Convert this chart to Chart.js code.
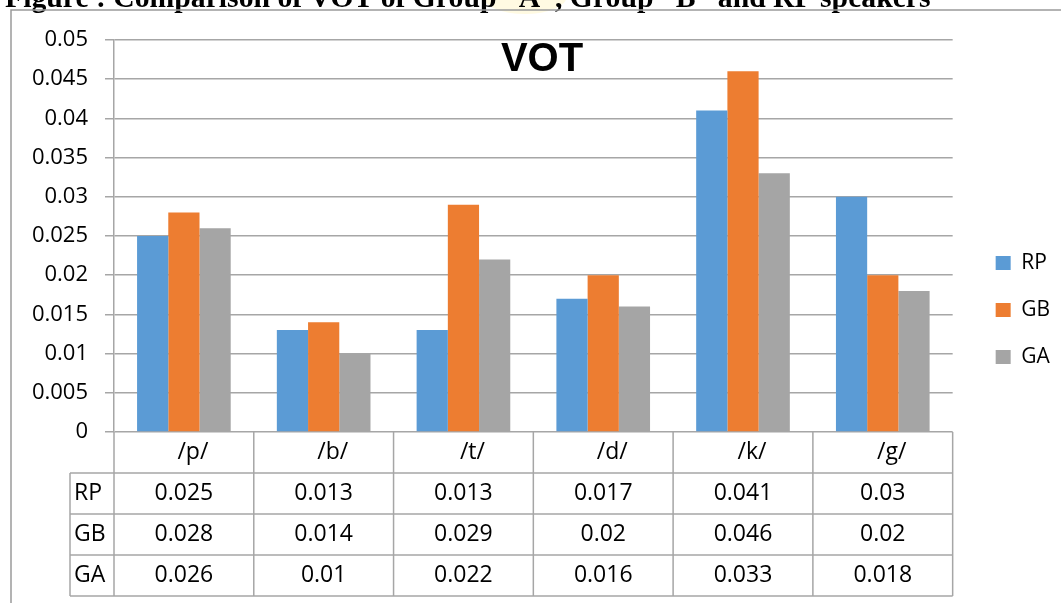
<!DOCTYPE html>
<html>
<head>
<meta charset="utf-8">
<title>VOT</title>
<script src="https://cdn.jsdelivr.net/npm/chart.js@4.4.1/dist/chart.umd.min.js"></script>
<style>
  html, body { margin: 0; padding: 0; background: #fff; }
  #wrap { width: 1061px; height: 603px; }
</style>
</head>
<body>
<div id="wrap"><canvas id="votChart" width="1061" height="603"></canvas></div>
<script>
const categories = ["/p/", "/b/", "/t/", "/d/", "/k/", "/g/"];
const seriesNames = ["RP", "GB", "GA"];
const rpValues = [0.025, 0.013, 0.013, 0.017, 0.041, 0.03];
const gbValues = [0.028, 0.014, 0.029, 0.02, 0.046, 0.02];
const gaValues = [0.026, 0.01, 0.022, 0.016, 0.033, 0.018];
const yMin = 0;
const yMax = 0.05;
const yStep = 0.005;
const chartTitle = "VOT";
const captionText = "Figure : Comparison of VOT of Group \u201cA\u201d, Group \u201cB\u201d and RP speakers";

const colors = ["#5b9bd5", "#ed7d31", "#a5a5a5"];
const lineGray = "#a6a6a6";
const fontFamily = "'Open Sans', sans-serif";

Chart.defaults.font.family = fontFamily;
Chart.defaults.color = "#000";

// caption, frame and title around the plot, data table under it
const extrasPlugin = {
    id: "extras",
    beforeDraw(chart) {
        const ctx = chart.ctx;
        ctx.save();
        // faint watermark blob behind the caption
        ctx.fillStyle = "rgba(255, 240, 160, 0.3)";
        ctx.beginPath();
        ctx.ellipse(525, -4, 42, 18, 0, 0, Math.PI * 2);
        ctx.fill();

        ctx.fillStyle = "#000";
        ctx.font = "bold 29.7px 'Liberation Serif', serif";
        ctx.textBaseline = "alphabetic";
        ctx.textAlign = "left";
        ctx.fillText(captionText, 5, 7);

        ctx.strokeStyle = "#9a9a9a";
        ctx.lineWidth = 1.5;
        ctx.beginPath();
        ctx.moveTo(11, 603);
        ctx.lineTo(11, 10);
        ctx.lineTo(1061, 10);
        ctx.stroke();
        ctx.restore();
    },
    afterDraw(chart) {
        const { ctx, chartArea, scales: { x } } = chart;
        const n = categories.length;
        const half = (chartArea.right - chartArea.left) / n / 2;
        const top = chartArea.bottom;
        const rowH = 41;
        const labelLeft = 70;
        const rows = [rpValues, gbValues, gaValues];
        const bottom = top + rowH * (rows.length + 1);

        ctx.save();
        ctx.strokeStyle = lineGray;
        ctx.lineWidth = 1.5;
        ctx.beginPath();
        for (let i = 0; i <= n; i++) {
            const px = i < n ? x.getPixelForValue(i) - half : x.getPixelForValue(n - 1) + half;
            ctx.moveTo(px, top);
            ctx.lineTo(px, bottom);
        }
        ctx.moveTo(labelLeft, top + rowH);
        ctx.lineTo(labelLeft, bottom);
        for (let r = 1; r <= rows.length; r++) {
            ctx.moveTo(labelLeft, top + rowH * r);
            ctx.lineTo(chartArea.right, top + rowH * r);
        }
        ctx.moveTo(labelLeft, bottom);
        ctx.lineTo(chartArea.right, bottom);
        ctx.stroke();

        ctx.fillStyle = "#000";
        ctx.font = "23px " + fontFamily;
        ctx.textBaseline = "middle";
        ctx.textAlign = "center";
        categories.forEach((c, i) => {
            ctx.fillText(c, x.getPixelForValue(i) + 9, top + rowH / 2);
        });
        rows.forEach((vals, r) => {
            const cy = top + rowH * (r + 1) + rowH / 2;
            ctx.textAlign = "center";
            vals.forEach((v, i) => {
                ctx.fillText(String(v), x.getPixelForValue(i), cy);
            });
            ctx.textAlign = "left";
            ctx.fillText(seriesNames[r], labelLeft + 4, cy);
        });

        // chart title inside the plot
        ctx.font = "bold 40px 'Liberation Sans', sans-serif";
        ctx.textAlign = "center";
        ctx.fillText(chartTitle, 542, chartArea.top + 20);
        ctx.restore();
    }
};

new Chart(document.getElementById("votChart"), {
    type: "bar",
    data: {
        labels: categories,
        datasets: [
            { label: seriesNames[0], data: rpValues, backgroundColor: colors[0] },
            { label: seriesNames[1], data: gbValues, backgroundColor: colors[1] },
            { label: seriesNames[2], data: gaValues, backgroundColor: colors[2] }
        ]
    },
    options: {
        responsive: false,
        animation: false,
        categoryPercentage: 0.67,
        barPercentage: 1,
        layout: { padding: { top: 40, left: 0, right: 1, bottom: 23 } },
        plugins: {
            tooltip: { enabled: false },
            legend: {
                position: "right",
                labels: {
                    boxWidth: 15,
                    boxHeight: 14,
                    padding: 26,
                    font: { size: 21 }
                }
            }
        },
        scales: {
            x: {
                ticks: { display: false },
                grid: { display: false },
                border: { display: false },
                afterFit(scale) { scale.height = 148; }
            },
            y: {
                min: yMin,
                max: yMax,
                ticks: {
                    stepSize: yStep,
                    padding: 17,
                    font: { size: 22 },
                    callback: value => String(Number(value.toFixed(3)))
                },
                grid: { color: lineGray, lineWidth: 1.5, tickLength: 9 },
                border: { color: lineGray, width: 1.5 },
                afterFit(scale) { scale.width = 114; }
            },
            gap: {
                type: "linear",
                position: "right",
                ticks: { display: false },
                grid: { display: false },
                border: { display: false },
                afterFit(scale) { scale.width = 17; }
            }
        }
    },
    plugins: [extrasPlugin]
});
</script>
</body>
</html>
